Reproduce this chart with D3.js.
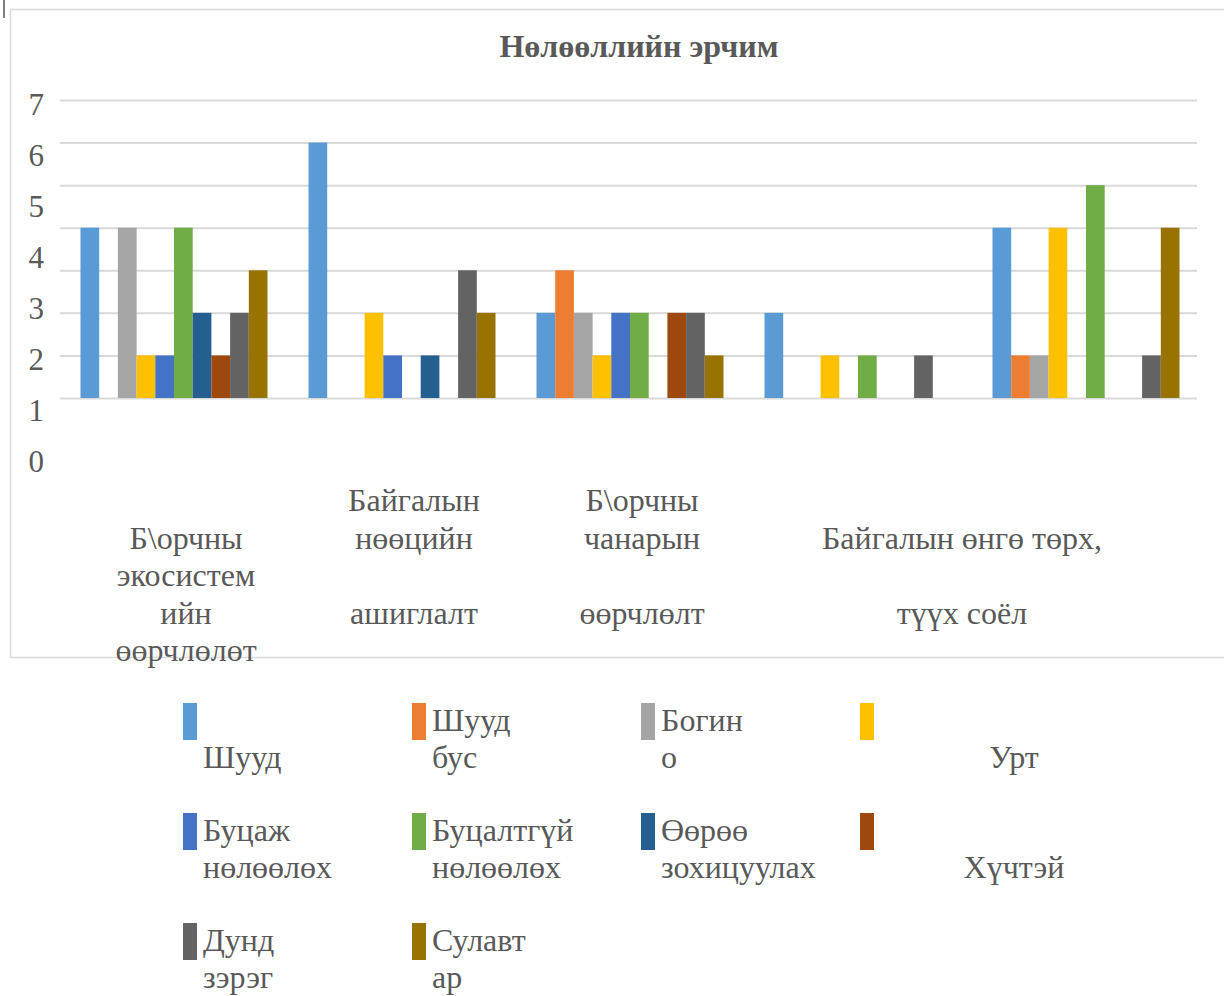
<!DOCTYPE html>
<html>
<head>
<meta charset="utf-8">
<script src="https://d3js.org/d3.v7.min.js"></script>
<style>
  body { margin: 0; background: #fff; }
  text { font-family: "Liberation Serif", "Times New Roman", serif; fill: #595959; }
</style>
</head>
<body>
<script>
    // chart data
    let categories = ["Б\\орчны экосистемийн өөрчлөлөт", "Байгалын нөөцийн ашиглалт",
        "Б\\орчны чанарын өөрчлөлт", "Байгалын өнгө төрх, түүх соёл", ""];
    // label lines as they wrap under the axis
    let categoryLines = [
        ["", "Б\\орчны", "экосистем", "ийн", "өөрчлөлөт"],
        ["Байгалын", "нөөцийн", "", "ашиглалт"],
        ["Б\\орчны", "чанарын", "", "өөрчлөлт"],
        ["", "Байгалын өнгө төрх,", "", "түүх соёл"],
        []
    ];
    let seriesNames = ["Шууд", "Шууд бус", "Богино", "Урт", "Буцаж нөлөөлөх", "Буцалтгүй нөлөөлөх",
        "Өөрөө зохицуулах", "Хүчтэй", "Дунд зэрэг", "Сулавтар"];
    let legendLines = [
        ["", "Шууд"], ["Шууд", "бус"], ["Богин", "о"], ["", "Урт"],
        ["Буцаж", "нөлөөлөх"], ["Буцалтгүй", "нөлөөлөх"], ["Өөрөө", "зохицуулах"], ["", "Хүчтэй"],
        ["Дунд", "зэрэг"], ["Сулавт", "ар"]
    ];
    let colors = ["#5B9BD5", "#ED7D31", "#A5A5A5", "#FFC000", "#4472C4", "#70AD47",
        "#255E91", "#9E480E", "#636363", "#997300"];
    // one array per series, one value per category
    let shuud       = [4, 6, 2, 2, 4];
    let shuudBus    = [0, 0, 3, 0, 1];
    let bogino      = [4, 0, 2, 0, 1];
    let urt         = [1, 2, 1, 1, 4];
    let butsaj      = [1, 1, 2, 0, 0];
    let butsaltgui  = [4, 0, 2, 1, 5];
    let uuruu       = [2, 1, 0, 0, 0];
    let huchtei     = [1, 0, 2, 0, 0];
    let dund        = [2, 3, 2, 1, 1];
    let sulavtar    = [3, 2, 1, 0, 4];
    let values = [shuud, shuudBus, bogino, urt, butsaj, butsaltgui, uuruu, huchtei, dund, sulavtar];
    let yTicks = [0, 1, 2, 3, 4, 5, 6, 7];

    let svg = d3.select("body").append("svg")
        .attr("width", 1224)
        .attr("height", 996);

    // chart frame
    svg.append("rect")
        .attr("x", 10.5).attr("y", 9.5)
        .attr("width", 1230).attr("height", 648)
        .attr("fill", "none")
        .attr("stroke", "#d9d9d9")
        .attr("stroke-width", 1.5);
    svg.append("line")
        .attr("x1", 4).attr("x2", 4).attr("y1", 0).attr("y2", 18)
        .attr("stroke", "#000");

    svg.append("text")
        .attr("x", 639).attr("y", 57)
        .attr("text-anchor", "middle")
        .style("font-size", "32px")
        .style("font-weight", "bold")
        .text("Нөлөөллийн эрчим");

    let x0 = d3.scaleBand()
        .domain(d3.range(categories.length))
        .range([60, 1200]);
    let x1 = d3.scaleBand()
        .domain(d3.range(seriesNames.length))
        .range([20.5, x0.bandwidth() - 20.5]);
    let y = d3.scaleLinear()
        .domain([0, 7])
        .range([398, 100]);
    // tick labels sit a little off the gridlines in the original
    let yLabel = d3.scaleLinear()
        .domain([0, 7])
        .range([462, 105]);

    // gridlines
    let grid = svg.append("g")
        .attr("transform", "translate(60,0)")
        .call(d3.axisLeft(y).tickValues(yTicks).tickSize(-1137).tickFormat(""));
    grid.select(".domain").remove();
    grid.selectAll("line").attr("stroke", "#d9d9d9").attr("stroke-width", 2);

    let yAx = svg.append("g")
        .attr("transform", "translate(44,0)")
        .call(d3.axisLeft(yLabel).tickValues(yTicks).tickSize(0).tickPadding(0).tickFormat(d3.format("d")));
    yAx.attr("font-family", null).attr("font-size", null);
    yAx.select(".domain").remove();
    yAx.selectAll("text")
        .attr("fill", "#595959")
        .style("font-size", "31px");

    // bars
    for (let s = 0; s < seriesNames.length; s++) {
        svg.append("g")
            .selectAll("rect")
            .data(values[s])
            .join("rect")
            .attr("x", (d, c) => x0(c) + x1(s))
            .attr("y", d => y(d))
            .attr("width", x1.bandwidth())
            .attr("height", d => y(0) - y(d))
            .attr("fill", colors[s]);
    }

    // category labels
    categoryLines.forEach((lines, c) => {
        let cx = x0(c) + x0.bandwidth() / 2 + 12;
        if (c == 3) cx = x0(3) + x0.bandwidth() - 10;
        lines.forEach((t, k) => {
            svg.append("text")
                .attr("x", cx)
                .attr("y", 511 + k * 37.5)
                .attr("text-anchor", "middle")
                .style("font-size", "32px")
                .text(t);
        });
    });

    // legend
    let legendColX = [183, 412, 641, 860];
    legendLines.forEach((lines, i) => {
        let col = i % 4, row = Math.floor(i / 4);
        let lx = legendColX[col];
        let ly = 703 + row * 110;
        svg.append("rect")
            .attr("x", lx).attr("y", ly)
            .attr("width", 14).attr("height", 37)
            .attr("fill", colors[i]);
        lines.forEach((t, k) => {
            svg.append("text")
                .attr("x", col == 3 ? lx + 154 : lx + 20)
                .attr("y", ly + 28 + k * 37)
                .attr("text-anchor", col == 3 ? "middle" : "start")
                .style("font-size", "32px")
                .text(t);
        });
    });
</script>
</body>
</html>
